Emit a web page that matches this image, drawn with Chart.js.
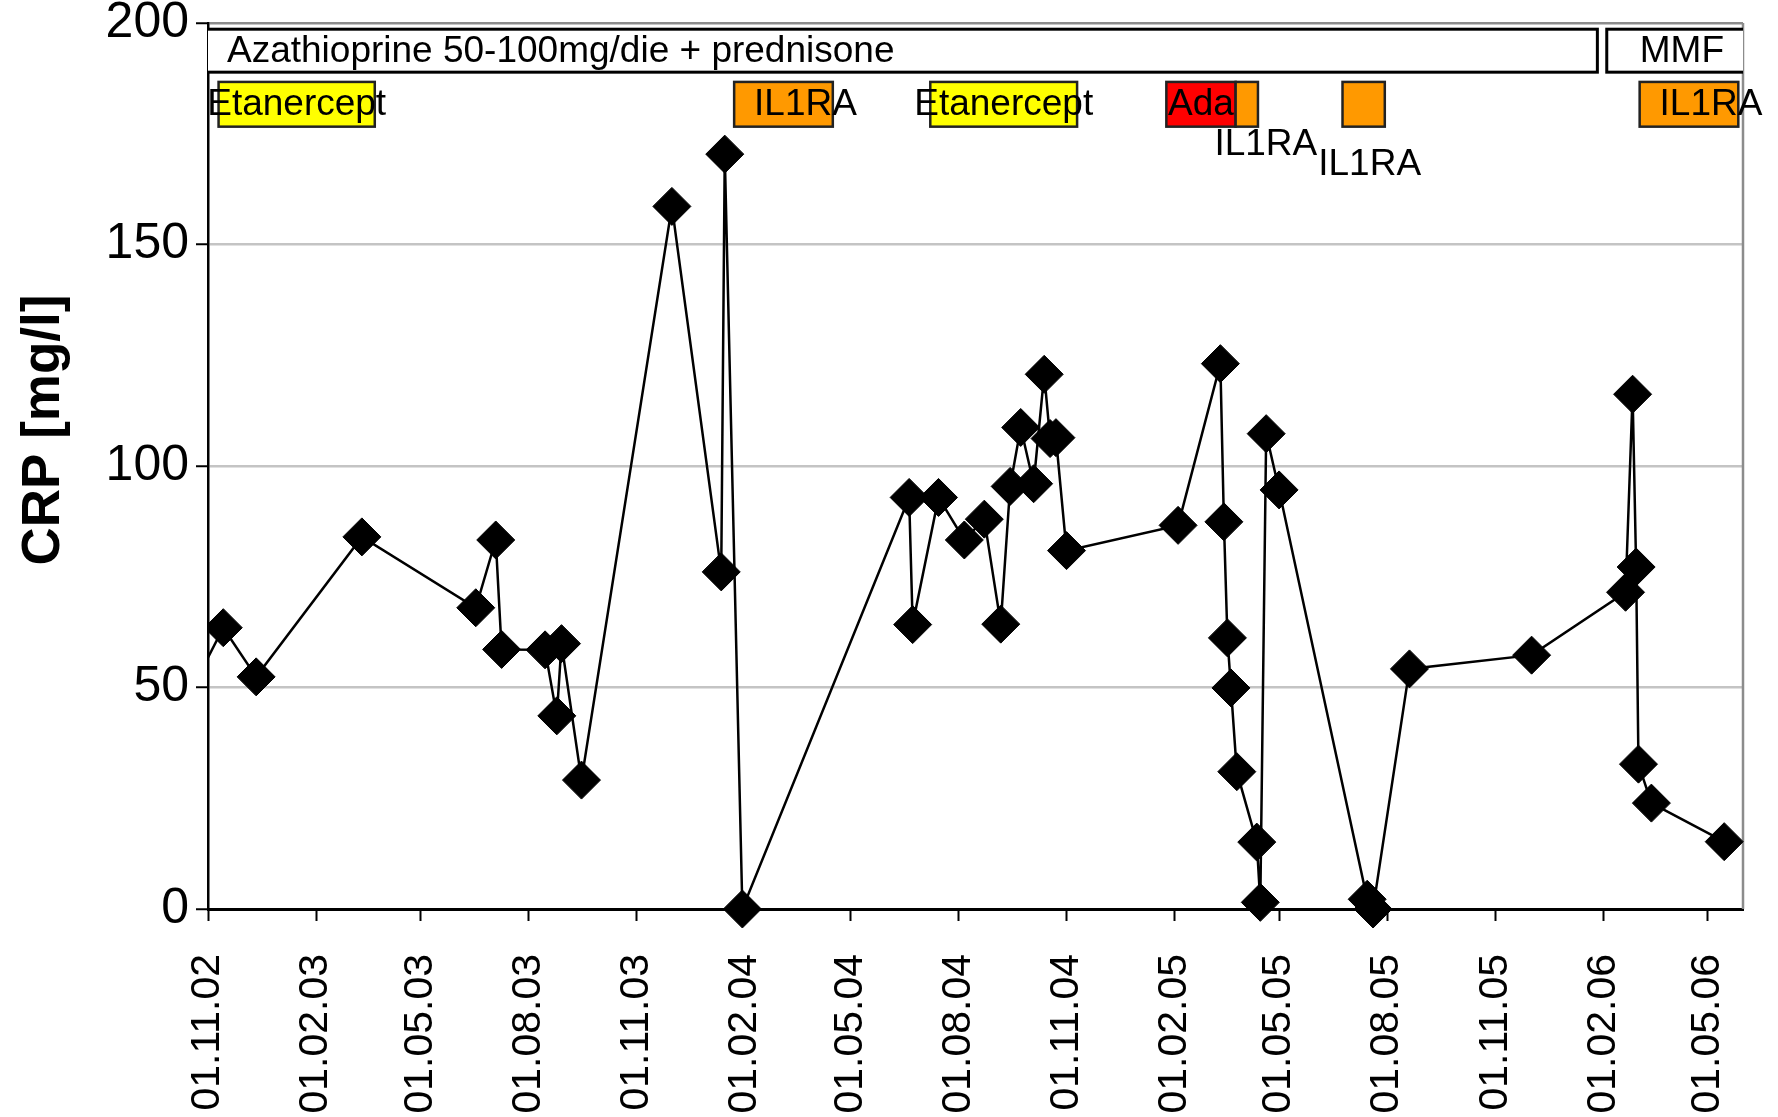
<!DOCTYPE html>
<html>
<head>
<meta charset="utf-8">
<script src="https://cdn.jsdelivr.net/npm/chart.js@4.4.1/dist/chart.umd.min.js"></script>
<style>
  html, body { margin: 0; padding: 0; background: #fff; }
  #wrap { width: 1778px; height: 1117px; }
</style>
</head>
<body>
<div id="wrap"><canvas id="crpChart" width="1778" height="1117"></canvas></div>
<script>
// CRP measurements; the first one lies before the axis start and is only seen as the clipped line
const crpDates = [
  '2002-10-15', '2002-11-14', '2002-12-12', '2003-03-12', '2003-06-17', '2003-07-04', '2003-07-09',
  '2003-08-15', '2003-08-25', '2003-08-29', '2003-09-15', '2003-12-01', '2004-01-12', '2004-01-15',
  '2004-01-30', '2004-06-20', '2004-06-23', '2004-07-15', '2004-08-06', '2004-08-23', '2004-09-06',
  '2004-09-14', '2004-09-23', '2004-10-04', '2004-10-13', '2004-10-18', '2004-10-23', '2004-11-01',
  '2005-02-04', '2005-03-12', '2005-03-15', '2005-03-18', '2005-03-21', '2005-03-26', '2005-04-12',
  '2005-04-15', '2005-04-20', '2005-05-01', '2005-07-15', '2005-07-20', '2005-08-20', '2005-12-02',
  '2006-02-20', '2006-02-26', '2006-03-01', '2006-03-03', '2006-03-14', '2006-05-15'
];
const crpValues = [
  48, 63.5, 52.4, 84, 68, 83.3, 58.6,
  58.5, 43.6, 59.9, 29.1, 158.6, 76.1, 170.4,
  0, 92.9, 64.2, 92.9, 83.3, 88, 64.3,
  95.4, 108.7, 96, 120.7, 106.2, 106.4, 80.9,
  86.6, 123.1, 87.4, 61.2, 49.9, 31, 15.1,
  1.5, 107.3, 94.6, 2.2, 0, 54.2, 57.3,
  71.5, 116.2, 77.2, 32.7, 23.9, 15.2
];

// x axis tick labels (dd.mm.yy), y axis ticks
const tickLabels = [
  '01.11.02', '01.02.03', '01.05.03', '01.08.03', '01.11.03', '01.02.04', '01.05.04', '01.08.04',
  '01.11.04', '01.02.05', '01.05.05', '01.08.05', '01.11.05', '01.02.06', '01.05.06'
];
const yTicks = [0, 50, 100, 150, 200];
const axisStart = '2002-11-01';
const axisEnd = '2006-05-31';

// therapy periods shown on top of the plot
const treatmentNames = [
  'Azathioprine 50-100mg/die + prednisone', 'MMF', 'Etanercept', 'IL1RA', 'Etanercept',
  'Ada', 'IL1RA', 'IL1RA', 'IL1RA'
];
const treatmentStarts = [
  '2002-10-01', '2006-02-04', '2002-11-10', '2004-01-23', '2004-07-08',
  '2005-01-25', '2005-03-25', '2005-06-24', '2006-03-04'
];
const treatmentEnds = [
  '2006-01-27', '2006-07-01', '2003-03-23', '2004-04-16', '2004-11-10',
  '2005-03-25', '2005-04-13', '2005-07-30', '2006-05-27'
];

const FONT = '"Liberation Sans", Arial, sans-serif';

// box styles: row, fill, label alignment / shift in px, label below box
const treatmentStyles = [
  { row: 0, fill: '#ffffff', align: 'left', dx: 19 },
  { row: 0, fill: '#ffffff', align: 'center', dx: 7 },
  { row: 1, fill: '#ffff00', align: 'center', dx: 0 },
  { row: 1, fill: '#ff9900', align: 'center', dx: 22 },
  { row: 1, fill: '#ffff00', align: 'center', dx: 0 },
  { row: 1, fill: '#ff0000', align: 'center', dx: 0 },
  { row: 1, fill: '#ff9900', align: 'center', dx: 19, below: 18 },
  { row: 1, fill: '#ff9900', align: 'center', dx: 6, below: 38 },
  { row: 1, fill: '#ff9900', align: 'center', dx: 22 }
];
const rowBands = [[198.6, 188.9], [186.7, 176.6]];

function dayNum(iso) {
  const p = iso.split('-').map(Number);
  return (Date.UTC(p[0], p[1] - 1, p[2]) - Date.UTC(2002, 10, 1)) / 86400000;
}
function labelDay(lbl) {
  const p = lbl.split('.');
  return dayNum('20' + p[2] + '-' + p[1] + '-' + p[0]);
}

const points = crpDates.map((d, i) => ({ x: dayNum(d), y: crpValues[i] }));
const tickDays = tickLabels.map(labelDay);

const treatmentBars = {
  id: 'treatmentBars',
  beforeDatasetsDraw(chart) {
    const { ctx, chartArea: a, scales: { x, y } } = chart;

    // gray right frame
    ctx.save();
    ctx.strokeStyle = '#8c8c8c';
    ctx.lineWidth = 2.5;
    ctx.beginPath();
    ctx.moveTo(a.right, a.top);
    ctx.lineTo(a.right, a.bottom);
    ctx.stroke();
    ctx.restore();

    const boxes = treatmentNames.map((name, i) => {
      const s = treatmentStyles[i];
      const band = rowBands[s.row];
      return {
        x0: x.getPixelForValue(dayNum(treatmentStarts[i])),
        x1: x.getPixelForValue(dayNum(treatmentEnds[i])),
        y0: y.getPixelForValue(band[0]),
        y1: y.getPixelForValue(band[1])
      };
    });

    ctx.save();
    ctx.beginPath();
    ctx.rect(a.left, a.top - 5, a.right - a.left, a.bottom - a.top + 5);
    ctx.clip();
    boxes.forEach((b, i) => {
      ctx.fillStyle = treatmentStyles[i].fill;
      ctx.fillRect(b.x0, b.y0, b.x1 - b.x0, b.y1 - b.y0);
      ctx.strokeStyle = treatmentStyles[i].row === 0 ? '#000' : '#222';
      ctx.lineWidth = treatmentStyles[i].row === 0 ? 3 : 2.5;
      ctx.strokeRect(b.x0, b.y0, b.x1 - b.x0, b.y1 - b.y0);
    });
    ctx.restore();

    ctx.save();
    ctx.fillStyle = '#000';
    ctx.textBaseline = 'middle';
    boxes.forEach((b, i) => {
      const s = treatmentStyles[i];
      const left = Math.max(b.x0, a.left);
      const right = Math.min(b.x1, a.right);
      ctx.font = '37px ' + FONT;
      ctx.textAlign = s.align;
      const tx = s.align === 'left' ? left + s.dx : (left + right) / 2 + s.dx;
      const ty = s.below ? b.y1 + s.below : (b.y0 + b.y1) / 2 + 1;
      ctx.fillText(treatmentNames[i], tx, ty);
    });
    ctx.restore();
  }
};

const yTitle = {
  id: 'yTitle',
  afterDraw(chart) {
    const { ctx, chartArea: a } = chart;
    ctx.save();
    ctx.translate(59, (a.top + a.bottom) / 2 - 36);
    ctx.rotate(-Math.PI / 2);
    ctx.font = 'bold 53px ' + FONT;
    ctx.fillStyle = '#000';
    ctx.textAlign = 'center';
    ctx.textBaseline = 'alphabetic';
    ctx.fillText('CRP [mg/l]', 0, 0);
    ctx.restore();
  }
};

new Chart(document.getElementById('crpChart').getContext('2d'), {
  type: 'scatter',
  data: {
    datasets: [{
      data: points,
      showLine: true,
      borderColor: '#000',
      borderWidth: 2.5,
      tension: 0,
      pointStyle: 'rectRot',
      pointRadius: ctx => (ctx.raw && ctx.raw.x < 0 ? 0 : 19),
      pointBackgroundColor: '#000',
      pointBorderColor: '#000',
      pointBorderWidth: 1,
      clip: { left: 1, top: false, right: false, bottom: false }
    }]
  },
  options: {
    responsive: false,
    animation: false,
    devicePixelRatio: 1,
    layout: { padding: { top: 23, right: 35, left: 0, bottom: 0 } },
    plugins: { legend: { display: false }, tooltip: { enabled: false } },
    scales: {
      x: {
        type: 'linear',
        min: dayNum(axisStart),
        max: dayNum(axisEnd),
        afterBuildTicks: scale => { scale.ticks = tickDays.map(v => ({ value: v })); },
        afterFit: scale => { scale.height = 208; scale.paddingLeft = 0; scale.paddingRight = 0; },
        ticks: {
          autoSkip: false,
          maxRotation: 90,
          minRotation: 90,
          padding: 33,
          color: '#000',
          font: { family: FONT, size: 41 },
          callback: (v, i) => tickLabels[i]
        },
        grid: { display: true, drawOnChartArea: false, drawTicks: true, tickLength: 12, tickColor: '#000', tickWidth: 2 },
        border: { display: true, color: '#000', width: 3 }
      },
      y: {
        min: 0,
        max: 200,
        afterBuildTicks: scale => { scale.ticks = yTicks.map(v => ({ value: v })); },
        afterFit: scale => { scale.width = 208; scale.paddingTop = 0; scale.paddingBottom = 0; },
        ticks: {
          padding: 7,
          color: '#000',
          font: { family: FONT, size: 50 }
        },
        grid: {
          color: c => (c.tick.value === 0 ? 'rgba(0,0,0,0)' : c.tick.value === 200 ? '#8c8c8c' : '#c4c4c4'),
          lineWidth: 2.5,
          tickLength: 12,
          tickColor: '#000',
          tickWidth: 2
        },
        border: { display: true, color: '#000', width: 2.5 }
      }
    }
  },
  plugins: [treatmentBars, yTitle]
});
</script>
</body>
</html>
